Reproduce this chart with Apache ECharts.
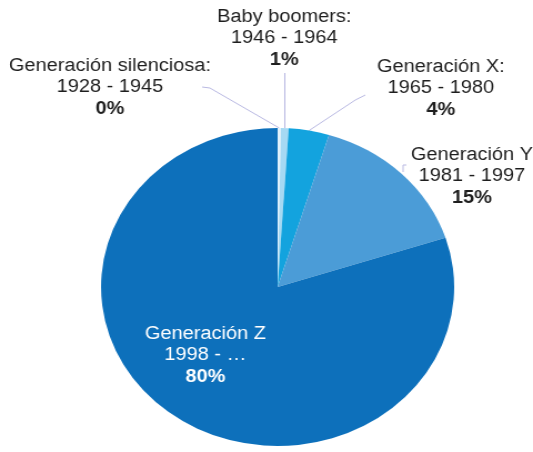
<!DOCTYPE html>
<html>
<head>
<meta charset="utf-8">
<script src="https://cdn.jsdelivr.net/npm/echarts@6/dist/echarts.min.js"></script>
<style>
  html, body { margin: 0; padding: 0; background: #fff; overflow: hidden; }
  /* the source picture is stretched sideways, so the whole chart is too */
  #chart { width: 480px; height: 452px; transform: scale(1.1104, 1); transform-origin: 0 0; }
</style>
</head>
<body>
<div id="chart"></div>
<script>
const generations = ["Generación silenciosa:", "Baby boomers:", "Generación X:", "Generación Y", "Generación Z"];
const yearRanges = ["1928 - 1945", "1946 - 1964", "1965 - 1980", "1981 - 1997", "1998 - …"];
const shares = [0.3, 0.7, 3.7, 15.3, 80.0];
const shareLabels = ["0%", "1%", "4%", "15%", "80%"];
const colors = ["#e2f1fb", "#a6d9f3", "#13a3de", "#4b9cd7", "#0d70bb"];

// label centres (unscaled px)
const labelPos = [[99, 88], [256, 39], [397, 89], [425, 177], [185, 356]];

const chart = echarts.init(document.getElementById("chart"));

const option = {
  animation: false,
  series: [
    {
      type: "pie",
      center: [250, 287],
      radius: 159,
      startAngle: 90,
      clockwise: true,
      avoidLabelOverlap: false,
      label: {
        show: true,
        position: "outside",
        overflow: "none",
        fontFamily: "Liberation Sans, Arial, sans-serif",
        fontSize: 18,
        color: "#1e1e1e",
        lineHeight: 21,
        align: "center",
        formatter: (p) =>
          "{n|" + generations[p.dataIndex] + "}\n{n|" + yearRanges[p.dataIndex] + "}\n{b|" + shareLabels[p.dataIndex] + "}",
        rich: {
          n: { fontSize: 18, lineHeight: 21, align: "center" },
          b: { fontSize: 18, lineHeight: 23, fontWeight: "bold", align: "center" },
        },
      },
      labelLine: {
        show: true,
        lineStyle: { color: "#b9b9e2", width: 1 },
      },
      labelLayout: function (params) {
        const i = params.dataIndex;
        const out = {
          x: labelPos[i][0],
          y: labelPos[i][1],
          align: "center",
          verticalAlign: "middle",
          width: 260,
        };
        const a = params.labelLinePoints ? params.labelLinePoints[0] : null;
        if (i === 0 && a) {
          out.labelLinePoints = [a, [189, 88], [182, 87]];
        } else if (i === 1 && a) {
          out.labelLinePoints = [a, [a[0], 100], [a[0], 73]];
        } else if (i === 2 && a) {
          out.labelLinePoints = [a, [320, 100], [329, 95]];
        } else if (i === 3) {
          out.labelLinePoints = [[363, 172], [363, 165], [366, 165]];
        }
        return out;
      },
      itemStyle: { borderWidth: 0 },
      emphasis: { disabled: true },
      data: shares.map((v, i) => ({
        name: generations[i],
        value: v,
        itemStyle: { color: colors[i] },
        label: i === 4 ? { position: "inside", color: "#ffffff" } : undefined,
        labelLine: i === 4 ? { show: false } : undefined,
      })),
    },
  ],
};

chart.setOption(option);
</script>
</body>
</html>
